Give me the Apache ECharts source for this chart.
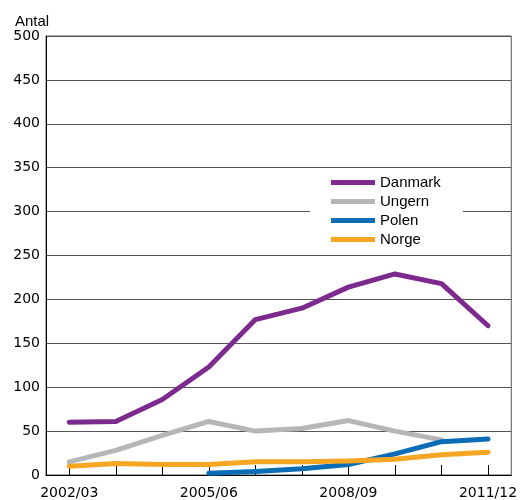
<!DOCTYPE html>
<html>
<head>
<meta charset="utf-8">
<script src="https://cdn.jsdelivr.net/npm/echarts@6.0.0/dist/echarts.min.js"></script>
<style>
  html, body { margin: 0; padding: 0; background: #fff; }
  #chart { width: 520px; height: 500px; }
</style>
</head>
<body>
<div id="chart"></div>
<script>
var years = ['2002/03','2003/04','2004/05','2005/06','2006/07','2007/08','2008/09','2009/10','2010/11','2011/12'];
var danmark = [60, 61, 86, 123, 177, 190, 214, 229, 218, 170];
var ungern  = [15, 28, 45, 61, 50, 53, 62, 50, 40, '-'];
var polen   = ['-', '-', '-', 2, 4, 7, 12, 24, 38, 41];
var norge   = [10, 13, 12, 12, 15, 15, 16, 18, 23, 26];

var fontFam = '"Liberation Sans", Arial, sans-serif';
var numFam = '"DejaVu Sans", sans-serif';

var chart = echarts.init(document.getElementById('chart'));

function line(name, data, color) {
  return {
    name: name, type: 'line', data: data,
    symbol: 'none', smooth: false,
    lineStyle: { color: color, width: 5, cap: 'round', join: 'round' },
    itemStyle: { color: color }
  };
}

var option = {
  animation: false,
  title: {
    text: 'Antal', left: 10, top: 9,
    textStyle: { fontFamily: fontFam, fontSize: 15, fontWeight: 'normal', color: '#000' }
  },
  grid: {
    left: 46, right: 7, top: 36, bottom: 25,
    show: true, borderColor: '#555', borderWidth: 1
  },
  legend: {
    orient: 'vertical', left: 310, top: 172,
    backgroundColor: '#fff',
    padding: [3, 22, 3, 21],
    itemWidth: 44, itemHeight: 5, itemGap: 4,
    icon: 'rect',
    textStyle: { fontFamily: fontFam, fontSize: 15, color: '#000', lineHeight: 15 },
    data: ['Danmark', 'Ungern', 'Polen', 'Norge']
  },
  xAxis: {
    type: 'category', data: years, boundaryGap: true,
    axisLine: { lineStyle: { color: '#000', width: 1 } },
    axisTick: { show: true, inside: true, length: 10, alignWithLabel: true, interval: 0,
                lineStyle: { color: '#000' } },
    axisLabel: { interval: 2, color: '#000', fontFamily: numFam, fontSize: 14, margin: 11 },
    splitLine: { show: false }
  },
  yAxis: {
    type: 'value', min: 0, max: 500, interval: 50,
    axisLine: { show: true, lineStyle: { color: '#000', width: 1 } },
    axisTick: { show: false },
    axisLabel: { color: '#000', fontFamily: numFam, fontSize: 14, margin: 6 },
    splitLine: { show: true, lineStyle: { color: '#555', width: 1 } }
  },
  series: [
    line('Danmark', danmark, '#7d2a8f'),
    line('Ungern', ungern, '#b4b6b8'),
    line('Polen', polen, '#0a6db5'),
    line('Norge', norge, '#f6a623')
  ]
};
chart.setOption(option);
</script>
</body>
</html>
